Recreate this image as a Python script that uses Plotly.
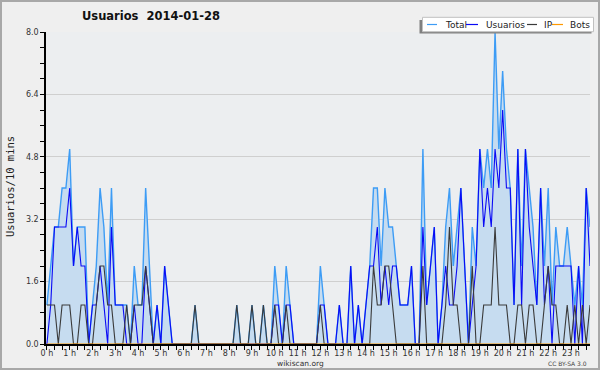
import plotly.graph_objects as go

# ---------------- data (one value per 10 minutes, 144 slots) ----------------
slot_minutes = list(range(0, 1440, 10))

total = [
    1, 2, 3, 3, 4, 4,   5, 2, 3, 3, 3, 0,   1, 2, 4, 3, 1, 4,   1, 1, 1, 1, 0, 2,
    1, 1, 4, 2, 0, 1,   0, 2, 1, 0, 0, 0,   0, 0, 0, 1, 0, 0,   0, 0, 0, 0, 0, 0,
    0, 0, 1, 0, 0, 0,   1, 0, 0, 1, 0, 0,   2, 1, 0, 2, 1, 0,   0, 0, 0, 0, 0, 0,
    2, 1, 0, 0, 0, 1,   0, 0, 2, 0, 1, 0,   1, 2, 4, 4, 2, 4,   3, 3, 2, 1, 1, 1,
    2, 0, 0, 5, 1, 2,   3, 0, 1, 3, 4, 2,   3, 4, 2, 0, 3, 2,   5, 4, 5, 4, 8, 5,
    7, 5, 4, 1, 5, 2,   5, 4, 3, 1, 4, 2,   4, 1, 3, 2, 2, 3,   2, 1, 2, 1, 4, 3,
]
usuarios = [
    0, 1, 3, 3, 3, 3,   4, 2, 3, 2, 2, 0,   1, 1, 2, 1, 0, 3,   1, 1, 1, 0, 0, 1,
    0, 0, 2, 1, 0, 1,   0, 2, 1, 0, 0, 0,   0, 0, 0, 0, 0, 0,   0, 0, 0, 0, 0, 0,
    0, 0, 0, 0, 0, 0,   0, 0, 0, 0, 0, 0,   1, 1, 0, 1, 1, 0,   0, 0, 0, 0, 0, 0,
    1, 1, 0, 0, 0, 1,   0, 0, 2, 0, 1, 0,   1, 2, 2, 3, 1, 2,   1, 2, 2, 1, 1, 1,
    2, 0, 0, 3, 1, 2,   3, 0, 1, 2, 1, 1,   2, 4, 2, 0, 1, 2,   5, 3, 4, 3, 5, 4,
    6, 4, 4, 1, 5, 1,   5, 3, 2, 1, 4, 1,   2, 0, 2, 2, 2, 2,   2, 0, 2, 0, 4, 2,
]
ip = [
    1, 1, 1, 0, 1, 1,   1, 0, 0, 1, 1, 0,   0, 1, 2, 2, 1, 1,   0, 0, 0, 1, 0, 1,
    1, 1, 2, 1, 0, 0,   0, 0, 0, 0, 0, 0,   0, 0, 0, 1, 0, 0,   0, 0, 0, 0, 0, 0,
    0, 0, 1, 0, 0, 0,   1, 0, 0, 1, 0, 0,   1, 0, 0, 1, 0, 0,   0, 0, 0, 0, 0, 0,
    1, 0, 0, 0, 0, 0,   0, 0, 0, 0, 0, 0,   0, 0, 2, 1, 1, 2,   2, 1, 0, 0, 0, 0,
    0, 0, 0, 2, 0, 0,   0, 0, 0, 1, 3, 1,   1, 0, 0, 0, 2, 0,   0, 1, 1, 1, 3, 1,
    1, 1, 0, 0, 1, 1,   0, 1, 1, 0, 0, 1,   2, 1, 1, 0, 0, 1,   0, 1, 0, 1, 0, 1,
]
bots = [
    0, 0, 0, 0, 0, 0,   0, 0, 0, 0, 0, 0,   0, 0, 0, 0, 0, 0,   0, 0, 0, 0, 0, 0,
    0, 0, 0, 0, 0, 0,   0, 0, 0, 0, 0, 0,   0, 0, 0, 0, 0, 0,   0, 0, 0, 0, 0, 0,
    0, 0, 0, 0, 0, 0,   0, 0, 0, 0, 0, 0,   0, 0, 0, 0, 0, 0,   0, 0, 0, 0, 0, 0,
    0, 0, 0, 0, 0, 0,   0, 0, 0, 0, 0, 0,   0, 0, 0, 0, 0, 0,   0, 0, 0, 0, 0, 0,
    0, 0, 0, 0, 0, 0,   0, 0, 0, 0, 0, 0,   0, 0, 0, 0, 0, 0,   0, 0, 0, 0, 0, 0,
    0, 0, 0, 0, 0, 0,   0, 0, 0, 0, 0, 0,   0, 0, 0, 0, 0, 0,   0, 0, 0, 0, 0, 0,
]

hour_values = list(range(24))
hour_labels = ["0 h", "1 h", "2 h", "3 h", "4 h", "5 h", "6 h", "7 h", "8 h", "9 h",
               "10 h", "11 h", "12 h", "13 h", "14 h", "15 h", "16 h", "17 h",
               "18 h", "19 h", "20 h", "21 h", "22 h", "23 h"]
y_tick_values = [0, 1.6, 3.2, 4.8, 6.4, 8.0]
y_tick_labels = ["0.0", "1.6", "3.2", "4.8", "6.4", "8.0"]

series_names = ["Total", "Usuarios", "IP", "Bots"]
title_text = "Usuarios\u00a0\u00a02014-01-28"
y_title = "Usuarios/10 mins"

# ---------------- styling ----------------
W, H = 600, 370
ML, MR, MT, MB = 46, 10, 32, 26
PW, PH = W - ML - MR, H - MT - MB

C_TOTAL = "#3d9cf5"
C_FILL = "#c6dcf0"
C_USER = "#0a0af5"
C_IP = "#3a3a3a"
C_BOTS = "#ff9900"
FONT = "DejaVu Sans"


def px_x(px):
    return (px - ML) / PW


def px_y(py):
    return (H - MB - py) / PH


hours = [m / 60 for m in slot_minutes]

fig = go.Figure()
fig.add_trace(go.Scatter(x=hours, y=total, name=series_names[0], mode="lines",
                         line=dict(color=C_TOTAL, width=1.4),
                         fill="tozeroy", fillcolor=C_FILL))
fig.add_trace(go.Scatter(x=hours, y=usuarios, name=series_names[1], mode="lines",
                         line=dict(color=C_USER, width=1.1)))
fig.add_trace(go.Scatter(x=hours, y=ip, name=series_names[2], mode="lines",
                         line=dict(color=C_IP, width=1.1)))
fig.add_trace(go.Scatter(x=hours, y=bots, name=series_names[3], mode="lines",
                         line=dict(color=C_BOTS, width=1.1)))

shapes = [
    # outer frame
    dict(type="rect", xref="paper", yref="paper",
         x0=px_x(1), x1=px_x(599), y0=px_y(1), y1=px_y(369),
         line=dict(color="#a8a8a8", width=2), layer="below"),
    # legend shadow
    dict(type="rect", xref="paper", yref="paper",
         x0=px_x(419.5), x1=px_x(591.5), y0=px_y(20), y1=px_y(33.5),
         line=dict(width=0), fillcolor="#808080", layer="above"),
    # legend box
    dict(type="rect", xref="paper", yref="paper",
         x0=px_x(422.5), x1=px_x(593.5), y0=px_y(17.3), y1=px_y(31.7),
         line=dict(color="#c0c0c0", width=1), fillcolor="#ffffff", layer="above"),
]
legend_items = [(427, 437, 443, C_TOTAL), (466, 478, 484, C_USER),
                (527, 537, 542, C_IP), (552, 563, 568, C_BOTS)]
annotations = []
for name, (l0, l1, tx, col) in zip(series_names, legend_items):
    shapes.append(dict(type="line", xref="paper", yref="paper",
                       x0=px_x(l0), x1=px_x(l1), y0=px_y(24.5), y1=px_y(24.5),
                       line=dict(color=col, width=1.2), layer="above"))
    annotations.append(dict(text=name, xref="paper", yref="paper",
                            x=px_x(tx), y=px_y(24.8), xanchor="left", yanchor="middle",
                            showarrow=False, font=dict(family=FONT, size=9, color="#222")))

annotations += [
    dict(text=y_title, xref="paper", yref="paper", x=px_x(10), y=px_y(187),
         textangle=-90, xanchor="center", yanchor="middle", showarrow=False,
         font=dict(family="DejaVu Sans Mono", size=10.5, color="#222")),
    dict(text="wikiscan.org", xref="paper", yref="paper", x=px_x(300), y=px_y(363.5),
         xanchor="center", yanchor="middle", showarrow=False,
         font=dict(family=FONT, size=7.5, color="#333")),
    dict(text="CC BY-SA 3.0", xref="paper", yref="paper", x=px_x(589), y=px_y(363.5),
         xanchor="right", yanchor="middle", showarrow=False,
         font=dict(family=FONT, size=6, color="#444")),
]

fig.update_layout(
    width=W, height=H,
    margin=dict(l=ML, r=MR, t=MT, b=MB, pad=0),
    paper_bgcolor="#efefef", plot_bgcolor="#eceef0",
    showlegend=False,
    title=dict(text=title_text, x=151 / W, y=1 - 16 / H, xref="container", yref="container",
               xanchor="center", yanchor="middle",
               font=dict(family=FONT, size=11.5, color="#111", weight="bold")),
    shapes=shapes, annotations=annotations,
    xaxis=dict(range=[-0.04, 143 / 6], showgrid=False, zeroline=False,
               showline=True, linecolor="#000", linewidth=1.5,
               tickmode="array", tickvals=hour_values, ticktext=hour_labels,
               ticks="outside", ticklen=4, tickwidth=1, tickcolor="#000",
               ticklabelstandoff=-3,
               tickfont=dict(family=FONT, size=8, color="#333"),
               minor=dict(tickmode="linear", tick0=0, dtick=1 / 3, ticks="outside",
                          ticklen=4, tickwidth=1, tickcolor="#000", showgrid=False)),
    yaxis=dict(range=[0, 8], showgrid=True, gridcolor="#cfcfcf", gridwidth=1,
               zeroline=False, showline=True, linecolor="#000", linewidth=1.5,
               tickmode="array", tickvals=y_tick_values, ticktext=y_tick_labels,
               ticks="outside", ticklen=4, tickwidth=1, tickcolor="#000",
               tickfont=dict(family=FONT, size=8, color="#333"),
               minor=dict(tickmode="linear", tick0=0, dtick=0.4, ticks="outside",
                          ticklen=4, tickwidth=1, tickcolor="#000", showgrid=False)),
)

fig.write_html("out.html")
